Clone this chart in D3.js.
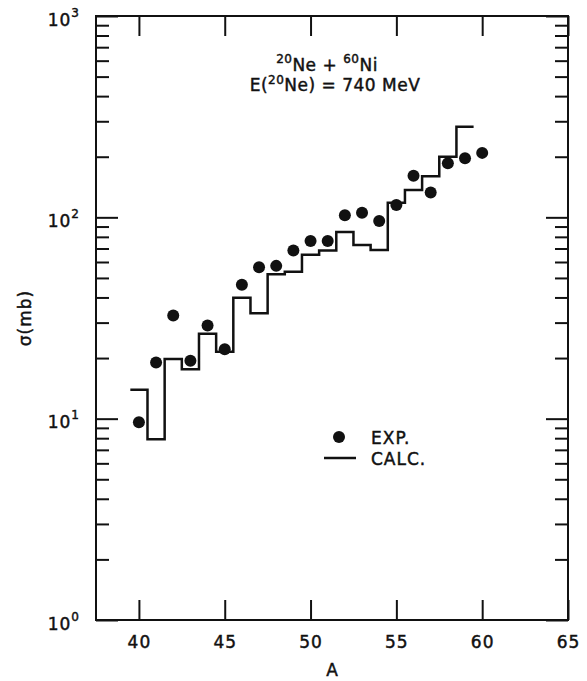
<!DOCTYPE html>
<html>
<head>
<meta charset="utf-8">
<script src="https://cdn.jsdelivr.net/npm/d3@7"></script>
<style>
  body { margin: 0; background: #fff; }
  text { font-family: "DejaVu Sans", sans-serif; fill: #111; stroke: #111; stroke-width: 0.45; }
</style>
</head>
<body>
<script>
"use strict";

// measured cross sections, A = 40..60
var expA = [40, 41, 42, 43, 44, 45, 46, 47, 48, 49, 50, 51, 52, 53, 54, 55, 56, 57, 58, 59, 60];
var expSigma = [9.6, 19.0, 32.5, 19.4, 29.0, 22.1, 46.2, 56.5, 57.4, 68.4, 76.3, 76.3,
                102.4, 105.5, 95.9, 115.3, 160.7, 132.7, 185.7, 196.5, 209];

// calculated histogram, one bin per A, A = 40..59
var calcA = [40, 41, 42, 43, 44, 45, 46, 47, 48, 49, 50, 51, 52, 53, 54, 55, 56, 57, 58, 59];
var calcSigma = [13.9, 7.9, 19.8, 17.6, 26.4, 21.5, 39.9, 33.4, 52.2, 53.7, 65.1, 68.4,
                 84.6, 72.9, 68.9, 118.3, 136.8, 160, 200, 282];

var xTicks = [40, 45, 50, 55, 60, 65];
var yDecades = [1, 10, 100, 1000];
var yDecadeExp = ["0", "1", "2", "3"];

var width = 587, height = 681;
var plotL = 96, plotR = 568, plotT = 16, plotB = 620;

var svg = d3.select("body").append("svg")
    .attr("width", width)
    .attr("height", height);

var x = d3.scaleLinear().domain([37.5, 65]).range([plotL, plotR]);
var y = d3.scaleLog().domain([1, 1000]).range([plotB, plotT]);

// minor ticks 2..9 in each decade
var minor = [];
yDecades.slice(0, 3).forEach(function(d) {
  for (var k = 2; k <= 9; k++) minor.push(d * k);
});

function styleTicks(g) {
  g.select(".domain").remove();
  g.selectAll(".tick line").attr("stroke", "#111").attr("stroke-width", 2);
}

// x axis, bottom with labels, top without
svg.append("g")
    .attr("transform", "translate(0," + plotB + ")")
    .call(d3.axisBottom(x).tickValues(xTicks).tickSize(-20).tickPadding(16).tickFormat(d3.format("d")))
    .call(styleTicks)
    .selectAll("text")
    .attr("font-size", 17)
    .attr("letter-spacing", 1)
    .attr("font-family", "DejaVu Sans")
    .attr("fill", "#111");

svg.append("g")
    .attr("transform", "translate(0," + plotT + ")")
    .call(d3.axisTop(x).tickValues(xTicks).tickSize(-20).tickFormat(""))
    .call(styleTicks);

// y axis ticks, left and right, pointing inward
[[d3.axisLeft, plotL], [d3.axisRight, plotR]].forEach(function(a) {
  svg.append("g")
      .attr("transform", "translate(" + a[1] + ",0)")
      .call(a[0](y).tickValues(yDecades).tickSize(-22).tickFormat(""))
      .call(styleTicks);
  svg.append("g")
      .attr("transform", "translate(" + a[1] + ",0)")
      .call(a[0](y).tickValues(minor).tickSize(-13).tickFormat(""))
      .call(styleTicks);
});

// frame
svg.append("rect")
    .attr("x", plotL).attr("y", plotT)
    .attr("width", plotR - plotL).attr("height", plotB - plotT)
    .attr("fill", "none").attr("stroke", "#111").attr("stroke-width", 2);

// decade labels 10^n
var yl = svg.append("g").selectAll("text")
    .data(yDecades)
    .join("text")
    .attr("x", plotL - 16)
    .attr("y", function(d) { return y(d) + 9.5; })
    .attr("text-anchor", "end")
    .attr("font-size", 17)
    .attr("letter-spacing", 1);
yl.append("tspan").text("10");
yl.append("tspan")
    .attr("font-size", 12)
    .attr("dy", -9)
    .text(function(d, i) { return yDecadeExp[i]; });

// axis titles
svg.append("text")
    .attr("x", (plotL + plotR) / 2)
    .attr("y", 676)
    .attr("text-anchor", "middle")
    .attr("font-size", 17)
    .text("A");

svg.append("text")
    .attr("transform", "translate(31," + (plotT + plotB) / 2 + ") rotate(-90)")
    .attr("text-anchor", "middle")
    .attr("font-size", 17)
    .attr("letter-spacing", 1)
    .text("σ(mb)");

// calculated histogram
var steps = calcA.map(function(a, i) { return [a - 0.5, calcSigma[i]]; });
steps.push([calcA[calcA.length - 1] + 0.5, calcSigma[calcSigma.length - 1]]);

svg.append("path")
    .datum(steps)
    .attr("fill", "none")
    .attr("stroke", "#111")
    .attr("stroke-width", 2.5)
    .attr("d", d3.line()
        .x(function(d) { return x(d[0]); })
        .y(function(d) { return y(d[1]); })
        .curve(d3.curveStepAfter));

// experimental points
svg.append("g").selectAll("circle")
    .data(expA)
    .join("circle")
    .attr("cx", function(d) { return x(d); })
    .attr("cy", function(d, i) { return y(expSigma[i]); })
    .attr("r", 6)
    .attr("fill", "#111");

// reaction label
var t1 = svg.append("text").attr("x", 327).attr("y", 71)
    .attr("text-anchor", "middle").attr("font-size", 17).attr("letter-spacing", 0.5);
t1.append("tspan").attr("font-size", 12).attr("dy", -8).text("20");
t1.append("tspan").attr("dy", 8).text("Ne + ");
t1.append("tspan").attr("font-size", 12).attr("dy", -8).text("60");
t1.append("tspan").attr("dy", 8).text("Ni");

var t2 = svg.append("text").attr("x", 335).attr("y", 91)
    .attr("text-anchor", "middle").attr("font-size", 17).attr("letter-spacing", 0.5);
t2.append("tspan").text("E(");
t2.append("tspan").attr("font-size", 12).attr("dy", -7).text("20");
t2.append("tspan").attr("dy", 7).text("Ne) = 740 MeV");

// legend
var lg = svg.append("g");
lg.append("circle").attr("cx", 339).attr("cy", 437).attr("r", 6).attr("fill", "#111");
lg.append("text").attr("x", 371).attr("y", 444).attr("font-size", 17).attr("letter-spacing", 1).text("EXP.");
lg.append("line").attr("x1", 324).attr("x2", 356).attr("y1", 458).attr("y2", 458)
    .attr("stroke", "#111").attr("stroke-width", 2.5);
lg.append("text").attr("x", 371).attr("y", 465).attr("font-size", 17).attr("letter-spacing", 1).text("CALC.");
</script>
</body>
</html>
